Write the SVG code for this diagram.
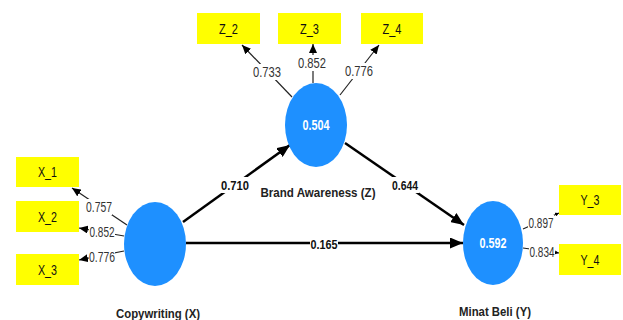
<svg xmlns="http://www.w3.org/2000/svg" width="623" height="320" viewBox="0 0 623 320">
<style>
.t{font-family:"Liberation Sans",Arial,sans-serif}
.lat{fill:#1E90FF}
.ind{fill:#FFFF00}
.it{font-size:14px;fill:#111;text-anchor:middle}
.val{font-size:14px;font-weight:bold;fill:#fff;text-anchor:middle}
.name{font-size:13px;font-weight:bold;fill:#222;text-anchor:middle}
.coef{font-size:13.5px;font-weight:bold;fill:#111;text-anchor:middle}
.load{font-size:14.5px;fill:#333;text-anchor:middle}
.s{stroke:#000;stroke-width:2.5;fill:none}
.l{stroke:#222;stroke-width:1.2;fill:none}
.bg{fill:#fff}
</style>
<defs>
<marker id="big" markerUnits="userSpaceOnUse" markerWidth="13" markerHeight="11" refX="13" refY="5.5" orient="auto"><path d="M0,0 L13,5.5 L0,11 z" fill="#000"/></marker>
<marker id="sm" markerUnits="userSpaceOnUse" markerWidth="9" markerHeight="8" refX="9" refY="4" orient="auto"><path d="M0,0 L9,4 L0,8 z" fill="#000"/></marker>
<marker id="xs" markerUnits="userSpaceOnUse" markerWidth="4" markerHeight="4" refX="4" refY="2" orient="auto"><path d="M0,0 L4,2 L0,4 z" fill="#000"/></marker>
</defs>
<rect width="623" height="320" fill="#fff"/>

<g id="connectors" class="t">
  <line class="s" x1="183" y1="222" x2="290" y2="145" marker-end="url(#big)"/>
  <line class="s" x1="345" y1="143" x2="464" y2="225" marker-end="url(#big)"/>
  <line class="s" x1="186" y1="243" x2="463" y2="243" marker-end="url(#big)"/>
  <line class="l" x1="292" y1="97" x2="242" y2="45" marker-end="url(#sm)"/>
  <line class="l" x1="313" y1="83" x2="313" y2="44" marker-end="url(#sm)"/>
  <line class="l" x1="340" y1="95" x2="379" y2="45" marker-end="url(#sm)"/>
  <line class="l" x1="127" y1="225" x2="72" y2="188" marker-end="url(#sm)"/>
  <line class="l" x1="124" y1="236" x2="79" y2="228" marker-end="url(#sm)"/>
  <line class="l" x1="124" y1="251" x2="79" y2="260" marker-end="url(#sm)"/>
  <line class="l" x1="523" y1="229" x2="559" y2="213" marker-end="url(#xs)"/>
  <line class="l" x1="523" y1="248" x2="559" y2="253" marker-end="url(#xs)"/>
  <rect class="bg" x="221" y="177" width="28" height="16"/>
  <text class="coef" x="235" y="190" textLength="28" lengthAdjust="spacingAndGlyphs">0.710</text>
  <rect class="bg" x="392" y="177" width="27" height="16"/>
  <text class="coef" x="405" y="190" textLength="26" lengthAdjust="spacingAndGlyphs">0.644</text>
  <rect class="bg" x="310" y="236" width="28" height="16"/>
  <text class="coef" x="324" y="249" textLength="27" lengthAdjust="spacingAndGlyphs">0.165</text>
  <rect class="bg" x="253" y="64" width="28" height="16"/>
  <text class="load" x="267" y="77.2" textLength="28" lengthAdjust="spacingAndGlyphs">0.733</text>
  <rect class="bg" x="298" y="55" width="28" height="16"/>
  <text class="load" x="312" y="68.2" textLength="28" lengthAdjust="spacingAndGlyphs">0.852</text>
  <rect class="bg" x="345" y="63" width="28" height="16"/>
  <text class="load" x="359" y="76.2" textLength="28" lengthAdjust="spacingAndGlyphs">0.776</text>
  <rect class="bg" x="86" y="199" width="26" height="16"/>
  <text class="load" x="99" y="212.2" textLength="26" lengthAdjust="spacingAndGlyphs">0.757</text>
  <rect class="bg" x="89" y="224" width="26" height="16"/>
  <text class="load" x="102" y="237.2" textLength="25" lengthAdjust="spacingAndGlyphs">0.852</text>
  <rect class="bg" x="89" y="249" width="26" height="16"/>
  <text class="load" x="102" y="262.2" textLength="26" lengthAdjust="spacingAndGlyphs">0.776</text>
  <rect class="bg" x="528" y="215" width="26" height="16"/>
  <text class="load" x="541" y="228.2" textLength="25" lengthAdjust="spacingAndGlyphs">0.897</text>
  <rect class="bg" x="529" y="244" width="26" height="16"/>
  <text class="load" x="542" y="257.2" textLength="25" lengthAdjust="spacingAndGlyphs">0.834</text>
</g>

<g id="node-Z" class="t">
  <ellipse class="lat" cx="316" cy="125" rx="31" ry="42"/>
  <text class="val" x="316" y="130" textLength="27" lengthAdjust="spacingAndGlyphs">0.504</text>
  <text class="name" x="318" y="197" textLength="115" lengthAdjust="spacingAndGlyphs">Brand Awareness (Z)</text>
</g>
<g id="node-X" class="t">
  <ellipse class="lat" cx="155" cy="244" rx="31" ry="42"/>
  <text class="name" x="158" y="318" textLength="84" lengthAdjust="spacingAndGlyphs">Copywriting (X)</text>
</g>
<g id="node-Y" class="t">
  <ellipse class="lat" cx="493" cy="243" rx="30" ry="42"/>
  <text class="val" x="493" y="248" textLength="27" lengthAdjust="spacingAndGlyphs">0.592</text>
  <text class="name" x="495" y="316" textLength="72" lengthAdjust="spacingAndGlyphs">Minat Beli (Y)</text>
</g>

<g id="ind-Z_2" class="t"><rect class="ind" x="197" y="13" width="63" height="31"/><text class="it" x="228.5" y="33.5" textLength="19" lengthAdjust="spacingAndGlyphs">Z_2</text></g>
<g id="ind-Z_3" class="t"><rect class="ind" x="278" y="13" width="63" height="31"/><text class="it" x="309.5" y="33.5" textLength="19" lengthAdjust="spacingAndGlyphs">Z_3</text></g>
<g id="ind-Z_4" class="t"><rect class="ind" x="361" y="13" width="62" height="31"/><text class="it" x="392" y="33.5" textLength="19" lengthAdjust="spacingAndGlyphs">Z_4</text></g>
<g id="ind-X_1" class="t"><rect class="ind" x="16" y="157" width="63" height="30"/><text class="it" x="47.5" y="177" textLength="19" lengthAdjust="spacingAndGlyphs">X_1</text></g>
<g id="ind-X_2" class="t"><rect class="ind" x="16" y="201" width="63" height="31"/><text class="it" x="47.5" y="221.5" textLength="19" lengthAdjust="spacingAndGlyphs">X_2</text></g>
<g id="ind-X_3" class="t"><rect class="ind" x="16" y="254" width="63" height="31"/><text class="it" x="47.5" y="274.5" textLength="19" lengthAdjust="spacingAndGlyphs">X_3</text></g>
<g id="ind-Y_3" class="t"><rect class="ind" x="559" y="185" width="62" height="30"/><text class="it" x="590" y="205" textLength="19" lengthAdjust="spacingAndGlyphs">Y_3</text></g>
<g id="ind-Y_4" class="t"><rect class="ind" x="559" y="244" width="62" height="31"/><text class="it" x="590" y="264.5" textLength="19" lengthAdjust="spacingAndGlyphs">Y_4</text></g>
</svg>
